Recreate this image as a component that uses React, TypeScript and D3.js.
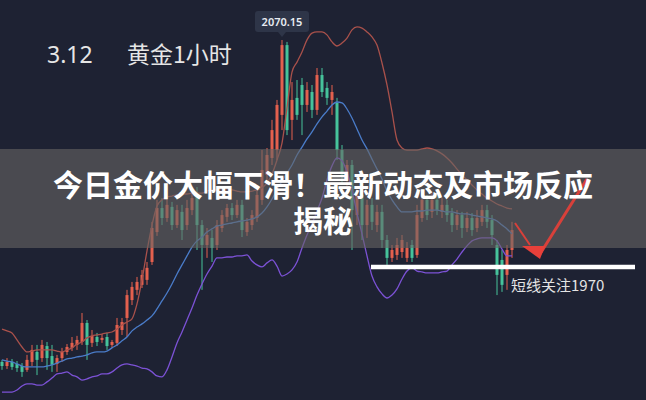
import React from 'react';
import * as d3 from 'd3';

const WIDTH = 646;
const HEIGHT = 400;

const titleLine1 = '今日金价大幅下滑！最新动态及市场反应';
const titleLine2 = '揭秘';
const dateLabel = '3.12';
const chartLabel = '黄金1小时';
const peakLabel = '2070.15';
const noteLabel = '短线关注1970';
const supportLevel = 1970;

const opens = [
  1928.1, 1926.3, 1928.1, 1927.2, 1926.3, 1924.6, 1928.1, 1932.5, 1929.8, 1935.1,
  1930.7, 1927.2, 1929.8, 1932.5, 1934.3, 1935.6, 1936.9, 1945.3, 1936.5, 1939.1,
  1937.8, 1939.1, 1935.6, 1936.5, 1942.2, 1947.5, 1955.4, 1959.9, 1962.1, 1964.3,
  1972.2, 1985.4, 1996.0, 1991.6, 1996.5, 1988.5, 1994.3, 1988.5, 1995.1, 2001.8,
  1988.5, 1979.7, 1982.8, 1979.7, 1987.2, 1992.1, 1996.0, 1992.9, 1997.4, 1985.4,
  1988.5, 1991.6, 1999.6, 2010.6, 2018.1, 2021.6, 2037.1, 2067.9, 2034.9, 2044.6,
  2050.3, 2041.5, 2047.2, 2039.3, 2054.7, 2049.0, 2043.7, 2042.4, 2021.6, 2008.4,
  2015.0, 1992.9, 2001.8, 1988.5, 1997.4, 1988.5, 1994.3, 1981.9, 1974.0, 1975.3,
  1976.6, 1974.0, 1979.7, 1975.3, 1991.6, 1999.6, 1994.3, 1999.6, 1994.3, 1997.4,
  1993.8, 1988.5, 1992.9, 1987.2, 1991.6, 1987.2, 1989.9, 1995.1, 1990.7, 1979.7,
  1973.1, 1966.5, 1977.5,
];
const closes = [
  1926.3, 1928.1, 1925.9, 1925.4, 1923.7, 1929.0, 1933.4, 1929.0, 1935.6, 1929.8,
  1926.8, 1929.8, 1932.5, 1934.7, 1936.5, 1937.8, 1945.3, 1935.6, 1939.6, 1936.9,
  1938.7, 1935.1, 1936.9, 1944.4, 1945.7, 1957.6, 1961.2, 1963.4, 1966.5, 1969.6,
  1987.2, 1996.0, 1991.6, 1997.4, 1988.5, 1995.1, 1986.3, 1996.0, 2000.4, 1988.5,
  1979.7, 1984.1, 1978.4, 1988.5, 1992.9, 1996.0, 1992.9, 1997.4, 1986.3, 1989.9,
  1992.9, 2001.8, 2012.8, 2019.4, 2030.4, 2041.5, 2067.9, 2030.4, 2043.7, 2037.1,
  2041.5, 2048.1, 2039.3, 2054.7, 2047.2, 2044.6, 2047.2, 2021.6, 2010.6, 2015.0,
  1995.1, 2001.8, 1988.5, 1997.4, 1989.9, 1994.3, 1981.9, 1974.0, 1977.5, 1979.7,
  1981.9, 1978.4, 1974.0, 1992.9, 1999.6, 1992.9, 1999.6, 1995.1, 1997.4, 1992.9,
  1988.5, 1992.9, 1987.2, 1991.6, 1986.3, 1991.6, 1995.1, 1989.9, 1984.1, 1966.5,
  1962.1, 1977.5, 1986.3,
];
const highs = [
  1929.0, 1929.8, 1929.4, 1928.5, 1927.6, 1931.2, 1935.6, 1935.6, 1937.8, 1936.9,
  1935.6, 1931.2, 1934.3, 1936.0, 1939.1, 1939.6, 1949.7, 1946.6, 1942.2, 1940.9,
  1940.4, 1940.9, 1937.8, 1947.5, 1947.5, 1959.9, 1963.4, 1965.6, 1968.7, 1972.2,
  1989.9, 1999.6, 2000.4, 2000.4, 1998.7, 1997.4, 1997.4, 1999.6, 2004.0, 2005.3,
  1990.7, 1987.2, 1986.3, 1990.7, 1995.1, 1997.8, 1998.2, 1999.6, 1999.6, 1991.6,
  1995.1, 2004.0, 2021.6, 2022.5, 2034.9, 2043.7, 2070.15, 2069.3, 2051.6, 2052.5,
  2053.4, 2051.6, 2050.3, 2057.8, 2057.8, 2051.6, 2050.3, 2044.6, 2023.8, 2017.2,
  2017.2, 2004.0, 2006.2, 1999.6, 2000.4, 1997.4, 1997.4, 1984.1, 1979.7, 1982.8,
  1984.1, 1981.0, 1981.9, 1997.4, 2003.1, 2001.8, 2002.7, 2001.8, 2000.4, 1999.6,
  1996.0, 1995.1, 1994.3, 1994.3, 1993.8, 1995.1, 1997.4, 1997.4, 1992.9, 1981.9,
  1977.5, 1979.7, 1989.9,
];
const lows = [
  1924.6, 1925.0, 1924.6, 1923.7, 1921.5, 1923.7, 1926.3, 1922.3, 1928.1, 1924.6,
  1923.7, 1923.7, 1928.1, 1931.2, 1932.9, 1933.4, 1935.6, 1929.0, 1934.7, 1935.1,
  1936.5, 1933.4, 1934.3, 1935.1, 1940.0, 1939.1, 1953.2, 1957.6, 1960.7, 1962.1,
  1970.9, 1983.7, 1988.5, 1989.9, 1986.3, 1987.2, 1981.9, 1986.3, 1992.9, 1977.5,
  1959.9, 1974.0, 1972.2, 1977.5, 1985.4, 1989.9, 1990.7, 1991.6, 1983.2, 1983.7,
  1986.3, 1989.9, 1997.4, 2006.2, 2015.0, 2017.2, 2030.4, 2028.2, 2026.0, 2034.9,
  2028.2, 2038.4, 2035.7, 2037.1, 2045.0, 2041.5, 2037.1, 2017.2, 2006.2, 2001.8,
  1977.5, 1988.5, 1981.9, 1982.8, 1986.3, 1985.4, 1978.4, 1970.9, 1972.2, 1973.1,
  1974.0, 1972.2, 1972.2, 1974.0, 1989.9, 1990.7, 1991.6, 1992.9, 1991.6, 1989.9,
  1985.4, 1986.3, 1982.8, 1985.4, 1983.7, 1985.4, 1988.1, 1987.2, 1979.7, 1957.6,
  1959.0, 1959.9, 1974.0,
];

const upperBand = [
  1942.6, 1941.8, 1940.9, 1937.8, 1934.7, 1932.5, 1932.9, 1933.4, 1933.4, 1933.4,
  1933.4, 1932.9, 1932.5, 1933.4, 1934.3, 1936.0, 1936.9, 1938.7, 1939.6, 1940.0,
  1940.4, 1940.9, 1941.3, 1942.6, 1944.4, 1945.7, 1947.1, 1953.7, 1964.3, 1977.1,
  1988.5, 1996.9, 1999.6, 2000.9, 2001.3, 2001.8, 2002.2, 2002.2, 2002.6, 2002.6,
  2002.6, 2003.5, 2004.0, 2004.0, 2004.0, 2004.0, 2004.0, 2003.5, 2003.1, 2003.1,
  2003.5, 2004.0, 2004.9, 2007.1, 2011.0, 2017.2, 2024.7, 2040.2, 2056.0, 2060.4,
  2064.9, 2070.2, 2073.2, 2073.7, 2073.7, 2072.4, 2069.3, 2067.5, 2068.8, 2071.0,
  2074.6, 2075.9, 2075.4, 2073.7, 2071.5, 2067.9, 2060.0, 2050.3, 2038.4, 2026.0,
  2022.5, 2021.6, 2021.6, 2021.6, 2022.1, 2022.5, 2022.1, 2021.2, 2019.9, 2018.1,
  2015.9, 2013.2, 2010.6, 2008.4, 2006.2, 2004.0, 2002.2, 2000.4, 1999.1, 1997.8,
  1996.9, 1996.0, 1995.6,
];
const midBand = [
  1929.0, 1928.5, 1928.1, 1927.2, 1926.3, 1925.9, 1925.9, 1925.9, 1925.9, 1926.3,
  1926.8, 1927.6, 1928.5, 1929.4, 1929.8, 1930.3, 1930.7, 1931.2, 1932.1, 1932.5,
  1932.5, 1932.9, 1934.3, 1935.6, 1937.4, 1939.1, 1941.8, 1943.5, 1944.9, 1946.6,
  1948.4, 1951.5, 1955.0, 1958.5, 1962.5, 1966.9, 1970.9, 1974.9, 1978.8, 1981.5,
  1983.2, 1985.4, 1986.8, 1988.1, 1988.5, 1989.0, 1989.4, 1989.9, 1990.3, 1990.7,
  1991.2, 1992.1, 1993.8, 1996.5, 2000.0, 2004.0, 2007.9, 2011.5, 2015.0, 2019.4,
  2022.9, 2026.5, 2029.6, 2033.1, 2036.2, 2038.8, 2041.5, 2042.8, 2042.4, 2039.7,
  2035.7, 2030.9, 2026.0, 2022.1, 2017.6, 2013.2, 2008.8, 2003.5, 1999.6, 1996.5,
  1994.3, 1994.3, 1994.3, 1994.7, 1994.7, 1995.1, 1995.1, 1995.1, 1994.7, 1994.3,
  1994.3, 1993.8, 1993.4, 1993.4, 1992.9, 1992.5, 1992.1, 1991.6, 1991.2, 1990.3,
  1988.5, 1986.8, 1984.6,
];
const lowerBand = [
  1914.8, 1914.8, 1914.8, 1915.7, 1917.5, 1918.4, 1918.4, 1917.9, 1917.9, 1919.3,
  1921.0, 1922.8, 1923.2, 1923.7, 1922.3, 1921.5, 1920.1, 1920.6, 1921.5, 1921.9,
  1922.8, 1922.8, 1923.7, 1925.4, 1926.8, 1927.2, 1926.8, 1926.3, 1925.4, 1925.0,
  1923.7, 1921.9, 1921.5, 1924.6, 1930.3, 1936.5, 1941.3, 1946.6, 1951.9, 1957.6,
  1962.5, 1966.9, 1970.4, 1974.0, 1974.0, 1974.4, 1974.4, 1974.9, 1974.9, 1975.3,
  1972.6, 1970.9, 1970.0, 1971.8, 1973.1, 1970.4, 1966.0, 1966.9, 1968.7, 1972.2,
  1978.4, 1984.1, 1989.0, 1994.7, 2000.4, 2008.4, 2014.6, 2018.1, 2016.8, 2011.9,
  2004.0, 1993.8, 1984.6, 1974.9, 1966.0, 1961.2, 1958.1, 1956.3, 1957.6, 1960.3,
  1964.7, 1968.2, 1969.6, 1968.2, 1967.8, 1967.4, 1967.4, 1967.4, 1967.8, 1968.2,
  1970.9, 1973.5, 1976.6, 1979.3, 1981.5, 1982.4, 1982.8, 1982.8, 1982.8, 1981.5,
  1977.9, 1974.9, 1974.9,
];

const COLORS = {
  bg: '#1e2233',
  up: '#e4604e',
  down: '#46c39b',
  upper: '#a9514b',
  mid: '#4a7cc9',
  lower: '#7c52d6',
};

export default function App() {
  const n = opens.length;
  const x = d3.scaleLinear().domain([0, n - 1]).range([2, 512]);
  const y = d3.scaleLinear().domain([1911.3, 2087.8]).range([HEIGHT, 0]);
  const bodyW = 3;

  const lineGen = d3
    .line<number>()
    .x((_, i) => x(i))
    .y((d) => y(d))
    .curve(d3.curveMonotoneX);

  const peakIdx = highs.indexOf(d3.max(highs) as number);
  const peakX = x(peakIdx);
  const supY = y(supportLevel);

  const cjk = '"Noto Sans CJK SC", "Noto Sans", sans-serif';

  return (
    <svg
      width={WIDTH}
      height={HEIGHT}
      style={{ position: 'absolute', left: 0, top: 0, display: 'block' }}
    >
      <rect x={0} y={0} width={WIDTH} height={HEIGHT} fill={COLORS.bg} />

      {/* candles */}
      <g>
        {opens.map((o, i) => {
          const c = closes[i];
          const up = c >= o;
          const col = up ? COLORS.up : COLORS.down;
          const cx = x(i);
          const top = y(Math.max(o, c));
          const bot = y(Math.min(o, c));
          return (
            <g key={i}>
              <line x1={cx} x2={cx} y1={y(highs[i])} y2={y(lows[i])} stroke={col} strokeWidth={1} />
              <rect x={cx - bodyW / 2} y={top} width={bodyW} height={Math.max(1, bot - top)} fill={col} />
            </g>
          );
        })}
      </g>

      {/* bands */}
      <path d={lineGen(upperBand) || ''} fill="none" stroke={COLORS.upper} strokeWidth={1.3} />
      <path d={lineGen(midBand) || ''} fill="none" stroke={COLORS.mid} strokeWidth={1.3} />
      <path d={lineGen(lowerBand) || ''} fill="none" stroke={COLORS.lower} strokeWidth={1.3} />

      {/* peak tooltip */}
      <g>
        <rect x={peakX - 27} y={11} width={54} height={21} rx={3} fill="#2e3548" />
        <path d={`M${peakX - 4},32 L${peakX + 4},32 L${peakX},37 Z`} fill="#2e3548" />
        <text
          x={peakX}
          y={26}
          textAnchor="middle"
          fill="#e8ecf2"
          fontSize={11}
          fontWeight={600}
          fontFamily='"Noto Sans", sans-serif'
        >
          {peakLabel}
        </text>
      </g>

      {/* header labels */}
      <text x={47} y={63} fill="#e6e6e6" fontSize={23} fontFamily='"Noto Sans", sans-serif'>
        {dateLabel}
      </text>
      <text x={127} y={63} fill="#e6e6e6" fontSize={23} fontFamily={cjk}>
        {chartLabel}
      </text>

      {/* support line */}
      <line x1={371} x2={635} y1={supY} y2={supY} stroke="#ffffff" strokeWidth={4.5} />
      <text x={511} y={291} fill="#e4e4e4" fontSize={15} fontFamily={cjk}>
        {noteLabel}
      </text>

      {/* banner */}
      <rect x={0} y={149} width={WIDTH} height={99} fill="rgba(104,101,100,0.6)" />

      {/* red arrow */}
      <g>
        <line x1={515} y1={223} x2={530} y2={245} stroke="#d8403a" strokeWidth={2} />
        <line x1={540} y1={254} x2={587} y2={179} stroke="#d8403a" strokeWidth={3} />
        <path d="M522,246 L545,246 L540,259 Z" fill="#e8403a" />
      </g>

      {/* title */}
      <text
        x={323}
        y={196}
        textAnchor="middle"
        fill="#ffffff"
        fontSize={30}
        fontWeight={700}
        fontFamily={cjk}
      >
        {titleLine1}
      </text>
      <text
        x={323}
        y={232}
        textAnchor="middle"
        fill="#ffffff"
        fontSize={30}
        fontWeight={700}
        fontFamily={cjk}
      >
        {titleLine2}
      </text>
    </svg>
  );
}
